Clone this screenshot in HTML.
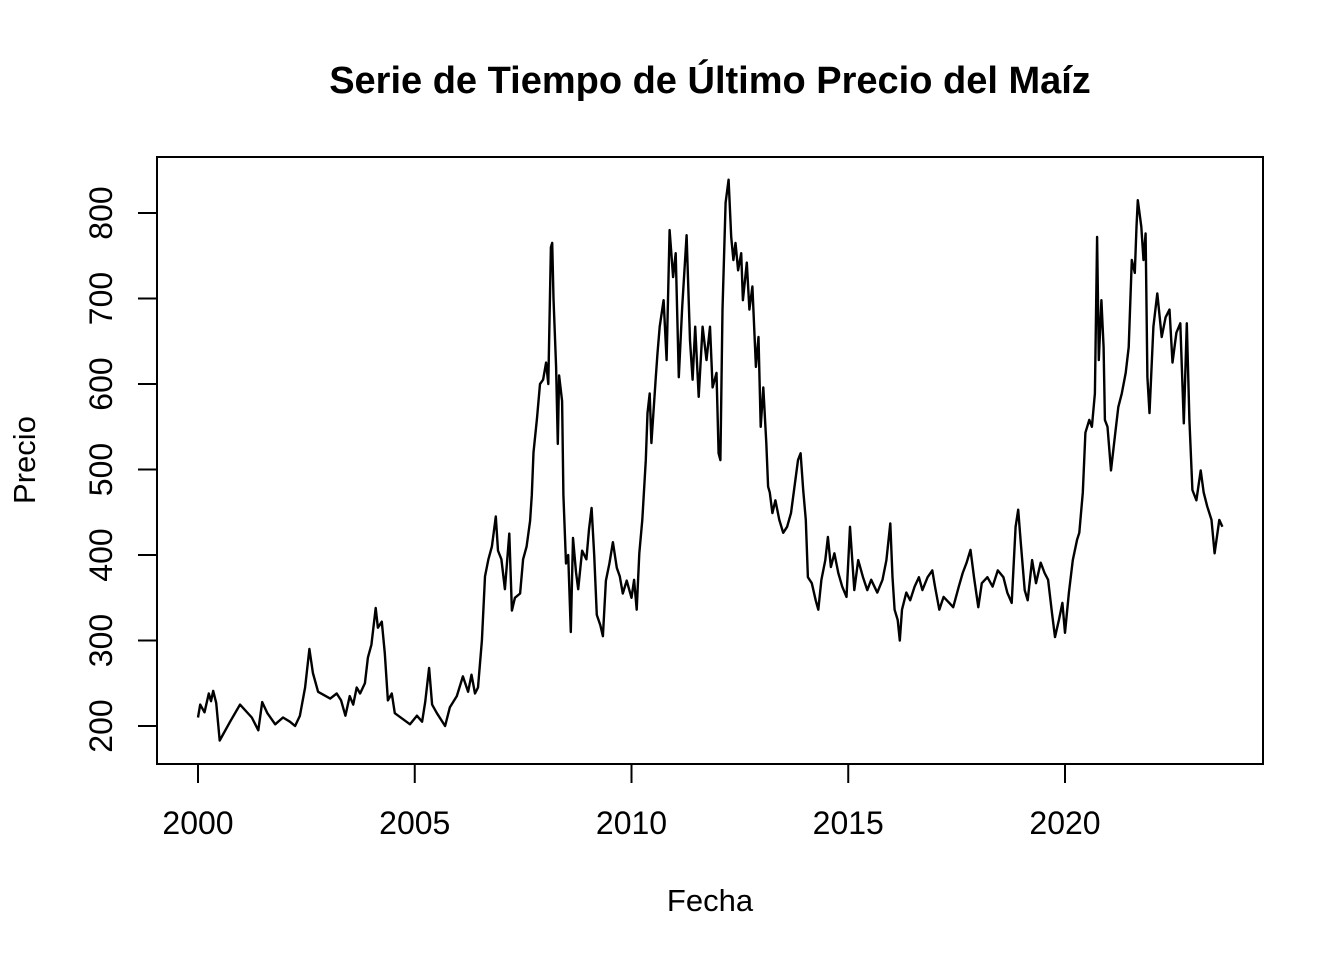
<!DOCTYPE html>
<html><head><meta charset="utf-8"><style>
html,body{margin:0;padding:0;background:#fff;}
svg{display:block;font-family:"Liberation Sans",Arial,sans-serif;}
</style></head><body>
<svg id="chart" width="1344" height="960" viewBox="0 0 1344 960" xmlns="http://www.w3.org/2000/svg">
<rect x="0" y="0" width="1344" height="960" fill="#fff"/>
<text x="710" y="93" text-anchor="middle" font-size="38" font-weight="bold">Serie de Tiempo de Último Precio del Maíz</text>
<rect x="157" y="157" width="1106" height="607" fill="none" stroke="#000" stroke-width="2"/>
<g id="xaxis"></g>
<g id="yaxis"></g>
<path id="series" fill="none" stroke="#000" stroke-width="2.4" stroke-linejoin="round"/>
<text x="710" y="911" text-anchor="middle" font-size="31">Fecha</text>
<text x="0" y="0" transform="translate(35,460) rotate(-90)" text-anchor="middle" font-size="31">Precio</text>
</svg>
<script>
const xTicks = [2000, 2005, 2010, 2015, 2020];
const yTicks = [200, 300, 400, 500, 600, 700, 800];
const years = [2000.0,2000.05,2000.15,2000.25,2000.3,2000.35,2000.42,2000.5,2000.74,2000.97,2001.24,2001.39,2001.48,2001.6,2001.78,2001.96,2002.12,2002.24,2002.35,2002.47,2002.57,2002.65,2002.77,2003.05,2003.2,2003.3,2003.4,2003.5,2003.58,2003.66,2003.74,2003.85,2003.92,2004.0,2004.1,2004.15,2004.24,2004.31,2004.38,2004.47,2004.54,2004.73,2004.89,2005.05,2005.17,2005.24,2005.33,2005.4,2005.51,2005.7,2005.81,2005.97,2006.11,2006.23,2006.31,2006.39,2006.46,2006.55,2006.62,2006.7,2006.78,2006.87,2006.92,2007.0,2007.08,2007.18,2007.24,2007.31,2007.43,2007.5,2007.58,2007.66,2007.7,2007.74,2007.82,2007.89,2007.96,2008.03,2008.08,2008.14,2008.17,2008.2,2008.26,2008.3,2008.33,2008.4,2008.43,2008.49,2008.54,2008.6,2008.65,2008.72,2008.77,2008.86,2008.96,2009.02,2009.08,2009.14,2009.2,2009.28,2009.34,2009.41,2009.49,2009.57,2009.66,2009.73,2009.8,2009.89,2010.0,2010.06,2010.12,2010.18,2010.25,2010.33,2010.37,2010.42,2010.46,2010.56,2010.6,2010.65,2010.74,2010.81,2010.85,2010.88,2010.96,2011.02,2011.09,2011.17,2011.27,2011.35,2011.41,2011.47,2011.55,2011.64,2011.73,2011.81,2011.87,2011.96,2012.01,2012.05,2012.1,2012.17,2012.24,2012.3,2012.35,2012.4,2012.46,2012.53,2012.57,2012.66,2012.72,2012.79,2012.87,2012.93,2012.98,2013.04,2013.11,2013.15,2013.19,2013.25,2013.32,2013.41,2013.5,2013.59,2013.68,2013.78,2013.84,2013.9,2013.96,2014.02,2014.07,2014.16,2014.25,2014.31,2014.38,2014.47,2014.53,2014.6,2014.68,2014.77,2014.86,2014.96,2015.04,2015.14,2015.23,2015.34,2015.44,2015.53,2015.67,2015.79,2015.88,2015.97,2016.02,2016.07,2016.14,2016.19,2016.24,2016.34,2016.43,2016.53,2016.63,2016.71,2016.83,2016.94,2017.0,2017.1,2017.2,2017.33,2017.42,2017.55,2017.64,2017.73,2017.82,2017.9,2018.0,2018.08,2018.21,2018.33,2018.45,2018.58,2018.67,2018.77,2018.86,2018.92,2018.98,2019.07,2019.14,2019.24,2019.33,2019.44,2019.53,2019.61,2019.7,2019.77,2019.86,2019.94,2020.0,2020.09,2020.18,2020.28,2020.33,2020.41,2020.47,2020.56,2020.62,2020.69,2020.74,2020.78,2020.84,2020.89,2020.92,2020.98,2021.06,2021.16,2021.23,2021.31,2021.4,2021.47,2021.54,2021.61,2021.65,2021.68,2021.76,2021.81,2021.86,2021.9,2021.95,2022.04,2022.13,2022.23,2022.32,2022.41,2022.48,2022.57,2022.66,2022.74,2022.81,2022.87,2022.94,2023.03,2023.13,2023.2,2023.28,2023.38,2023.45,2023.56,2023.63];
const prices = [210,225,216,238,229,241,227,183,205,225,210,195,228,215,202,210,205,200,212,245,290,262,240,232,238,230,212,235,225,245,238,250,280,295,338,315,322,285,230,238,215,208,202,212,205,228,268,225,215,200,222,235,258,240,260,238,245,300,375,395,410,445,405,395,360,425,335,350,355,395,410,440,470,520,560,600,605,625,600,760,765,700,620,530,610,580,470,390,400,310,420,380,360,405,395,430,455,400,330,318,305,370,390,415,385,375,355,370,350,371,336,402,441,511,566,589,531,608,636,667,698,628,714,780,725,753,608,690,774,651,605,667,585,667,628,667,596,613,519,511,687,812,839,772,745,765,733,753,698,742,687,714,620,655,550,596,531,480,473,449,464,441,426,433,449,488,511,519,476,441,374,367,347,336,371,394,421,386,402,379,363,351,433,359,394,374,359,371,356,371,394,437,374,336,324,300,336,356,347,363,374,359,374,382,363,336,351,344,339,363,379,391,406,374,339,367,374,363,382,374,356,344,433,453,414,359,347,394,367,391,379,371,332,304,324,344,309,356,394,418,426,473,543,558,550,589,772,628,698,643,558,550,499,543,573,589,613,643,745,730,784,815,784,745,776,608,566,667,706,655,678,687,625,660,671,554,671,558,476,464,499,473,457,441,402,441,433];

const X0 = 157, X1 = 1263, Y0 = 157, Y1 = 764;
function xs(v){ return 198 + (v - 2000) * 43.35; }
function ys(v){ return 726 - (v - 200) * 0.855; }
const NS = "http://www.w3.org/2000/svg";
const xa = document.getElementById('xaxis');
const ya = document.getElementById('yaxis');
function mk(tag, attrs, parent){ const e = document.createElementNS(NS, tag); for (const k in attrs) e.setAttribute(k, attrs[k]); parent.appendChild(e); return e; }
const xl = mk('line', {x1: xs(xTicks[0]), x2: xs(xTicks[xTicks.length-1]), y1: Y1, y2: Y1, stroke: '#000', 'stroke-width': 2}, xa);


xTicks.forEach(t => {
  const l = mk('line', {x1: xs(t), x2: xs(t), y1: Y1, y2: Y1 + 19, stroke: '#000', 'stroke-width': 2}, xa);
  
  
  const tx = mk('text', {x: xs(t), y: 834, 'text-anchor': 'middle', 'font-size': 32}, xa);
  
  
  tx.textContent = t;
});
const yl = mk('line', {x1: X0, x2: X0, y1: ys(yTicks[0]), y2: ys(yTicks[yTicks.length-1]), stroke: '#000', 'stroke-width': 2}, ya);


yTicks.forEach(t => {
  const l = mk('line', {x1: X0 - 19, x2: X0, y1: ys(t), y2: ys(t), stroke: '#000', 'stroke-width': 2}, ya);
  
  
  const tx = mk('text', {x: 0, y: 0, transform: 'translate(112,' + ys(t) + ') rotate(-90)', 'text-anchor': 'middle', 'font-size': 32}, ya);
  
  
  tx.textContent = t;
});
let d = '';
years.forEach((y, i) => { d += (i ? 'L' : 'M') + xs(y).toFixed(1) + ',' + ys(prices[i]).toFixed(1); });
document.getElementById('series').setAttribute('d', d);
</script>
</body></html>
